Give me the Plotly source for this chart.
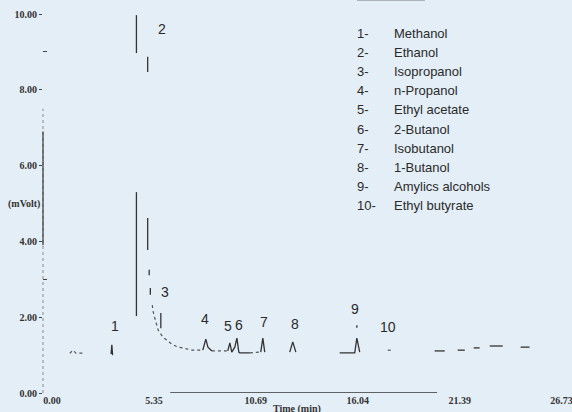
import plotly.graph_objects as go

# peak spikes (time in min, signal in mVolt)
spike_time = [
    3.10, 3.14, 3.18, None,
    4.43, 4.43, None, 4.43, 4.43, None,
    5.02, 5.02, None, 5.02, 5.02, None, 5.10, 5.10, None, 5.16, 5.16, None,
    5.71, 5.71, None,
    7.91, 8.07, 8.18, 8.39, None,
    9.22, 9.33, 9.43, 9.59, 9.70, 9.80, 9.85, 10.38, None,
    10.95, 11.06, 11.16, None,
    12.47, 12.63, 12.79, None,
    15.09, 15.88, 15.99, 16.14, None, 15.99, 15.99, None,
    20.07, 20.60, None, 21.28, 21.65, None, 22.12, 22.43, None,
    22.96, 23.64, None, 24.58, 25.05,
]
spike_signal = [
    1.03, 1.27, 1.00, None,
    9.97, 8.97, None, 5.30, 2.03, None,
    8.87, 8.47, None, 4.62, 3.77, None, 3.25, 3.11, None, 2.77, 2.59, None,
    2.11, 1.71, None,
    1.13, 1.42, 1.21, 1.11, None,
    1.11, 1.32, 1.08, 1.21, 1.45, 1.08, 1.06, 1.06, None,
    1.08, 1.45, 1.08, None,
    1.08, 1.35, 1.08, None,
    1.06, 1.06, 1.45, 1.08, None, 1.79, 1.72, None,
    1.11, 1.11, None, 1.13, 1.13, None, 1.19, 1.19, None,
    1.24, 1.24, None, 1.21, 1.21,
]

# faint dotted baseline / tail
base_time = [
    0.94, 1.10, 1.26, 1.47, 1.73, None,
    5.26, 5.31, 5.42, 5.52, 5.57, 5.81, 6.28, 6.60, 6.86, 7.34, 7.91, None,
    8.39, 9.22, None,
    10.38, 10.95, None,
    17.61, 17.82,
]
base_signal = [
    1.05, 1.13, 1.05, 1.05, 1.05, None,
    2.32, 2.14, 1.93, 1.74, 1.66, 1.48, 1.29, 1.21, 1.19, 1.13, 1.13, None,
    1.11, 1.11, None,
    1.06, 1.08, None,
    1.13, 1.13,
]

peak_numbers = ["1", "2", "3", "4", "5", "6", "7", "8", "9", "10"]
label_time = [3.30, 5.77, 5.92, 8.02, 9.22, 9.80, 11.11, 12.74, 15.88, 17.61]
label_signal = [1.77, 9.60, 2.66, 1.95, 1.77, 1.79, 1.87, 1.82, 2.22, 1.74]

peak_names = [
    "Methanol", "Ethanol", "Isopropanol", "n-Propanol", "Ethyl acetate",
    "2-Butanol", "Isobutanol", "1-Butanol", "Amylics alcohols", "Ethyl butyrate",
]

x_ticks = [0.00, 5.35, 10.69, 16.04, 21.39, 26.73]
y_ticks = [0, 2, 4, 6, 8, 10]

BG = "#e3eef6"
INK = "#2a2a2a"
serif = dict(family="Liberation Serif", size=10, color="#333333", weight="bold")
sans = dict(family="Liberation Sans", size=13, color=INK)


def px_to_paper(px, py):
    # plot area spans x 43..562 and y 14..393 in page pixels
    return (px - 43) / 519, (393 - py) / 379


fig = go.Figure()
fig.add_trace(
    go.Scatter(
        x=base_time, y=base_signal, mode="lines",
        line=dict(color="#555555", width=1.2, dash="dot"),
        connectgaps=False, showlegend=False, hoverinfo="skip",
    )
)
fig.add_trace(
    go.Scatter(
        x=spike_time, y=spike_signal, mode="lines",
        line=dict(color="#333333", width=1.3),
        connectgaps=False, showlegend=False,
    )
)

for txt, t, v in zip(peak_numbers, label_time, label_signal):
    fig.add_annotation(x=t, y=v, text=txt, showarrow=False, yanchor="middle",
                       font=dict(family="Liberation Sans", size=14, color=INK))

# peak name list (top right)
hx, hy = px_to_paper(355, -7)
fig.add_annotation(x=hx, y=hy, xref="paper", yref="paper",
                   xanchor="left", yanchor="middle", text="<u>Peak Name</u>",
                   showarrow=False, font=sans)
for i, name in enumerate(peak_names):
    nx, ny = px_to_paper(355, 33 + 19.2 * i)
    fig.add_annotation(x=nx, y=ny, xref="paper", yref="paper",
                       xanchor="left", yanchor="middle", text=f"{i + 1}-",
                       showarrow=False, font=sans)
    nx, ny = px_to_paper(392, 33 + 19.2 * i)
    fig.add_annotation(x=nx, y=ny, xref="paper", yref="paper",
                       xanchor="left", yanchor="middle", text=name,
                       showarrow=False, font=sans)

ax, ay = px_to_paper(24, 204)
fig.add_annotation(x=ax, y=ay, xref="paper", yref="paper", xanchor="center",
                   yanchor="middle", text="(mVolt)", showarrow=False, font=serif)
ax, ay = px_to_paper(297, 409)
fig.add_annotation(x=ax, y=ay, xref="paper", yref="paper", xanchor="center",
                   yanchor="middle", text="Time (min)", showarrow=False, font=serif)

# scanned axis lines (partly faded)
fig.add_shape(type="line", xref="x", yref="y", x0=6.2, x1=20.2, y0=0, y1=0,
              line=dict(color="#333333", width=1.5))
fig.add_shape(type="line", xref="paper", yref="y", x0=0, x1=0, y0=0, y1=7.5,
              line=dict(color="#888888", width=1, dash="dot"))
fig.add_shape(type="line", xref="paper", yref="y", x0=0, x1=0, y0=3.9, y1=6.9,
              line=dict(color="#444444", width=1.3))

fig.update_layout(
    width=572, height=412,
    margin=dict(l=43, r=10, t=14, b=19, autoexpand=False),
    paper_bgcolor=BG, plot_bgcolor=BG,
    showlegend=False,
)
fig.update_xaxes(
    range=[-0.47, 26.75], tickvals=x_ticks, ticktext=[f"{v:.2f}" for v in x_ticks],
    showgrid=False, zeroline=False, showline=False, ticks="", tickfont=serif,
    automargin=False, ticklabeloverflow="allow",
)
fig.update_yaxes(
    range=[0, 10], tickvals=y_ticks, ticktext=[f"{v:.2f}" for v in y_ticks],
    showgrid=False, zeroline=False, showline=False,
    ticks="outside", ticklen=3, tickcolor="#444444", tickfont=serif,
    minor=dict(tickvals=[3, 9], ticks="inside", ticklen=4, tickcolor="#444444"),
    automargin=False,
)

# the page's default body margin would shift the figure by 8px
fig.write_html(
    "out.html",
    config={"displayModeBar": False},
    post_script="document.body.style.margin = '0';",
)
